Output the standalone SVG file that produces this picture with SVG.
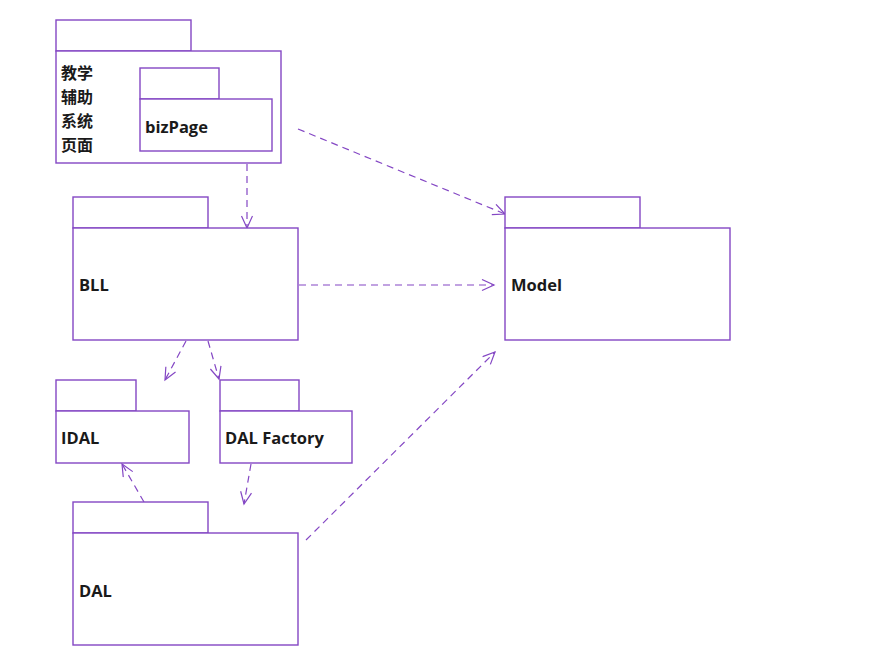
<svg xmlns="http://www.w3.org/2000/svg" width="881" height="661" viewBox="0 0 881 661">
<defs>
<style>
.pk{fill:#fff;stroke:#8447c4;stroke-width:1.4}
.lbl{font-family:"Open Sans","Noto Sans","DejaVu Sans",sans-serif;font-weight:bold;font-size:16.5px;fill:#1a1a1a}
.cjk{font-family:"Noto Sans CJK SC",sans-serif;font-weight:bold;font-size:16px;fill:#1a1a1a}
.dep{fill:none;stroke:#8447c4;stroke-width:1.2;stroke-dasharray:7,5;marker-end:url(#open)}
</style>
<marker id="open" markerUnits="userSpaceOnUse" markerWidth="16" markerHeight="14" refX="13" refY="6" orient="auto">
<path d="M1,0.5 L13,6 L1,11.5" fill="none" stroke="#8447c4" stroke-width="1.2"/>
</marker>
</defs>
<rect width="881" height="661" fill="#fff"/>
<g id="connectors">
<line class="dep" x1="247" y1="164" x2="247" y2="228"/>
<line class="dep" x1="298" y1="129" x2="505" y2="214"/>
<line class="dep" x1="299" y1="285" x2="494" y2="285"/>
<line class="dep" x1="186" y1="341" x2="165" y2="380"/>
<line class="dep" x1="208" y1="341" x2="219" y2="379"/>
<line class="dep" x1="144" y1="502" x2="122" y2="464"/>
<line class="dep" x1="251" y1="464" x2="244" y2="504"/>
<line class="dep" x1="306" y1="540" x2="495" y2="352"/>
</g>
<g id="page">
<rect class="pk" x="56" y="20" width="135" height="31"/>
<rect class="pk" x="56" y="51" width="225" height="112"/>
<text class="cjk" x="61" y="79">教学</text>
<text class="cjk" x="61" y="103">辅助</text>
<text class="cjk" x="61" y="127">系统</text>
<text class="cjk" x="61" y="151">页面</text>
</g>
<g id="bizPage">
<rect class="pk" x="140" y="68" width="79" height="31"/>
<rect class="pk" x="140" y="99" width="132" height="52"/>
<text class="lbl" x="145" y="133">bizPage</text>
</g>
<g id="BLL">
<rect class="pk" x="73" y="197" width="135" height="31"/>
<rect class="pk" x="73" y="228" width="225" height="112"/>
<text class="lbl" x="79" y="291">BLL</text>
</g>
<g id="Model">
<rect class="pk" x="505" y="197" width="135" height="31"/>
<rect class="pk" x="505" y="228" width="225" height="112"/>
<text class="lbl" x="511" y="291">Model</text>
</g>
<g id="IDAL">
<rect class="pk" x="56" y="380" width="80" height="31"/>
<rect class="pk" x="56" y="411" width="133" height="52"/>
<text class="lbl" x="61" y="444">IDAL</text>
</g>
<g id="DALFactory">
<rect class="pk" x="220" y="380" width="79" height="31"/>
<rect class="pk" x="220" y="411" width="132" height="52"/>
<text class="lbl" x="225" y="444">DAL Factory</text>
</g>
<g id="DAL">
<rect class="pk" x="73" y="502" width="135" height="31"/>
<rect class="pk" x="73" y="533" width="225" height="112"/>
<text class="lbl" x="79" y="597">DAL</text>
</g>
</svg>
